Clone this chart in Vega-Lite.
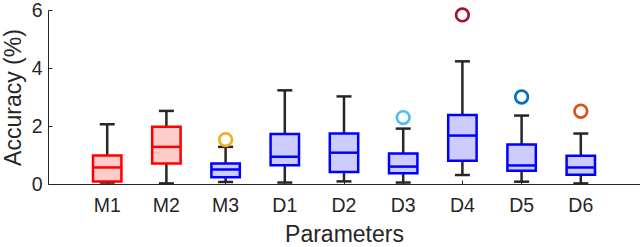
{
  "$schema": "https://vega.github.io/schema/vega-lite/v6.json",
  "width": 592,
  "height": 174,
  "autosize": {"type": "none"},
  "padding": {"left": 48, "top": 10, "right": 0, "bottom": 63},
  "background": "white",
  "config": {
    "view": {"stroke": null},
    "font": "Liberation Sans",
    "axis": {"labelColor": "#262626", "titleColor": "#262626", "domainColor": "#262626", "tickColor": "#262626", "grid": false, "labelFont": "Liberation Sans", "titleFont": "Liberation Sans", "titleFontWeight": "normal"}
  },
  "datasets": {
    "boxes": [
      {"param": "M1", "kind": "M", "lower": 0.05, "q1": 0.09, "median": 0.57, "q3": 0.98, "upper": 2.06},
      {"param": "M2", "kind": "M", "lower": 0.02, "q1": 0.71, "median": 1.28, "q3": 1.97, "upper": 2.52},
      {"param": "M3", "kind": "D", "lower": 0.07, "q1": 0.23, "median": 0.50, "q3": 0.71, "upper": 1.28},
      {"param": "D1", "kind": "D", "lower": 0.05, "q1": 0.65, "median": 0.94, "q3": 1.72, "upper": 3.23},
      {"param": "D2", "kind": "D", "lower": 0.09, "q1": 0.41, "median": 1.08, "q3": 1.74, "upper": 3.02},
      {"param": "D3", "kind": "D", "lower": 0.05, "q1": 0.37, "median": 0.60, "q3": 1.05, "upper": 1.91},
      {"param": "D4", "kind": "D", "lower": 0.31, "q1": 0.80, "median": 1.67, "q3": 2.38, "upper": 4.23},
      {"param": "D5", "kind": "D", "lower": 0.08, "q1": 0.46, "median": 0.64, "q3": 1.36, "upper": 2.36},
      {"param": "D6", "kind": "D", "lower": 0.02, "q1": 0.32, "median": 0.57, "q3": 0.97, "upper": 1.74}
    ],
    "outliers": [
      {"param": "M3", "value": 1.53},
      {"param": "D3", "value": 2.29},
      {"param": "D4", "value": 5.83},
      {"param": "D5", "value": 3.0},
      {"param": "D6", "value": 2.51}
    ]
  },
  "encoding": {
    "x": {
      "field": "param", "type": "nominal",
      "sort": ["M1", "M2", "M3", "D1", "D2", "D3", "D4", "D5", "D6"],
      "scale": {"domain": ["M1", "M2", "M3", "D1", "D2", "D3", "D4", "D5", "D6"], "paddingInner": 0.52, "paddingOuter": 0.76},
      "axis": {"title": "Parameters", "labelAngle": 0, "labelFontSize": 19.5, "titleFontSize": 23, "tickSize": -4, "labelPadding": 16, "titlePadding": 9, "domainWidth": 1}
    }
  },
  "layer": [
    {
      "data": {"name": "boxes"},
      "mark": {"type": "rule", "color": "#262626", "strokeWidth": 2.5},
      "encoding": {
        "y": {"field": "lower", "type": "quantitative", "scale": {"domain": [0, 6], "nice": false}, "axis": {"title": "Accuracy (%)", "values": [0, 2, 4, 6], "labelFontSize": 19.5, "titleFontSize": 23, "tickSize": -4, "labelPadding": 10, "titlePadding": 6}},
        "y2": {"field": "upper"}
      }
    },
    {
      "data": {"name": "boxes"},
      "mark": {"type": "tick", "color": "#262626", "size": 15, "thickness": 2.5, "opacity": 1},
      "encoding": {"y": {"field": "upper", "type": "quantitative"}}
    },
    {
      "data": {"name": "boxes"},
      "mark": {"type": "tick", "color": "#262626", "size": 15, "thickness": 2.5, "opacity": 1},
      "encoding": {"y": {"field": "lower", "type": "quantitative"}}
    },
    {
      "data": {"name": "boxes"},
      "mark": {"type": "bar", "strokeWidth": 2.5, "opacity": 1},
      "encoding": {
        "y": {"field": "q1", "type": "quantitative"},
        "y2": {"field": "q3"},
        "fill": {"field": "kind", "type": "nominal", "scale": {"domain": ["M", "D"], "range": ["#FFCCCC", "#CCCCFF"]}, "legend": null},
        "stroke": {"field": "kind", "type": "nominal", "scale": {"domain": ["M", "D"], "range": ["#FF0000", "#0000FF"]}, "legend": null}
      }
    },
    {
      "data": {"name": "boxes"},
      "mark": {"type": "tick", "thickness": 2.5, "opacity": 1},
      "encoding": {
        "y": {"field": "median", "type": "quantitative"},
        "size": {"value": 28},
        "color": {"field": "kind", "type": "nominal", "scale": {"domain": ["M", "D"], "range": ["#FF0000", "#0000FF"]}, "legend": null}
      }
    },
    {
      "data": {"name": "outliers"},
      "mark": {"type": "point", "shape": "circle", "filled": false, "strokeWidth": 2.7, "size": 160, "opacity": 1},
      "encoding": {
        "y": {"field": "value", "type": "quantitative"},
        "stroke": {"field": "param", "type": "nominal", "scale": {"domain": ["M3", "D3", "D4", "D5", "D6"], "range": ["#EDB120", "#4DBEEE", "#A2142F", "#0072BD", "#D95319"]}, "legend": null}
      }
    }
  ],
  "resolve": {"scale": {"stroke": "independent", "color": "independent"}}
}
